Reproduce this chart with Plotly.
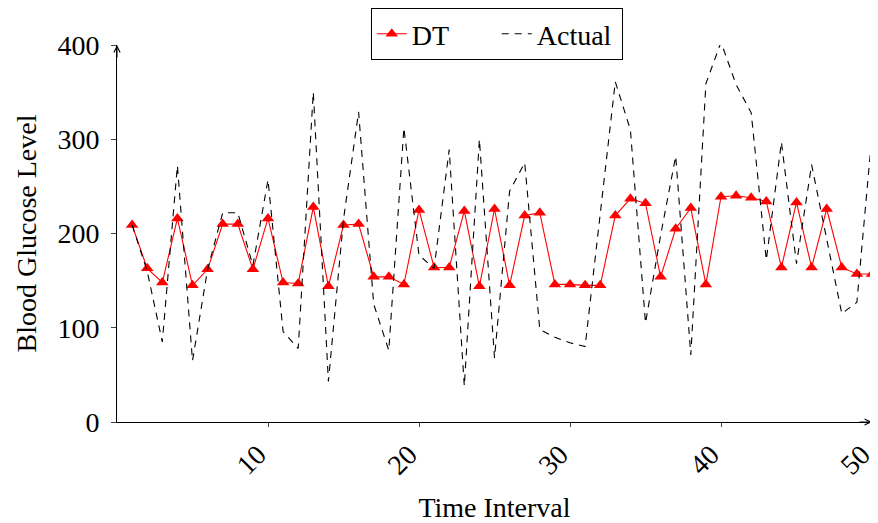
import plotly.graph_objects as go

time_interval = list(range(1, 51))

dt_values = [209, 163, 148, 216, 145, 162, 210, 210, 162, 216,
             148, 147, 228, 144, 209, 210, 154, 154, 146, 225,
             164, 164, 224, 144, 226, 145, 219, 222, 146, 146,
             145, 145, 219, 237, 232, 154, 205, 227, 146, 239,
             240, 238, 234, 164, 233, 164, 226, 164, 157, 157]

actual_values = [209, 160, 85, 272, 65, 162, 222, 222, 166, 257,
                 96, 78, 350, 43, 215, 329, 125, 76, 312, 177,
                 163, 289, 38, 300, 68, 245, 275, 98, 90, 84,
                 80, 220, 361, 310, 105, 198, 282, 71, 359, 403,
                 358, 328, 172, 297, 168, 273, 195, 115, 127, 305]

x_ticks = [10, 20, 30, 40, 50]
y_ticks = [0, 100, 200, 300, 400]

FONT = "Liberation Serif"

fig = go.Figure()
fig.add_trace(go.Scatter(
    x=time_interval, y=dt_values, name="DT", mode="lines+markers",
    line=dict(color="red", width=1.1),
    marker=dict(symbol="triangle-up", size=11, color="red"),
))
fig.add_trace(go.Scatter(
    x=time_interval, y=actual_values, name="Actual", mode="lines",
    line=dict(color="black", width=1.1, dash="7px,6px"),
))

# The page body adds an 8px offset, so the figure is sized 8px smaller.
fig.update_layout(
    width=870, height=515,
    margin=dict(l=109, r=6, t=37, b=101, autoexpand=False),
    paper_bgcolor="white", plot_bgcolor="white",
    font=dict(family=FONT, size=28, color="black"),
    showlegend=True,
    legend=dict(
        orientation="h", x=0.503, xanchor="center", y=1.098, yanchor="top",
        bordercolor="black", borderwidth=1, bgcolor="white",
        font=dict(family=FONT, size=28), entrywidth=80,
    ),
    xaxis=dict(
        range=[0, 50], tickvals=x_ticks, ticktext=[str(v) for v in x_ticks],
        tickangle=-45, showgrid=False, zeroline=False,
        showline=True, linecolor="black", linewidth=1,
        ticks="outside", ticklen=4, tickcolor="#444",
        ticklabeloverflow="allow", ticklabelshift=-10,
        automargin=False,
        title=dict(text="Time Interval", standoff=18, font=dict(size=28)),
    ),
    yaxis=dict(
        range=[0, 400], tickvals=y_ticks, showgrid=False, zeroline=False,
        showline=True, linecolor="black", linewidth=1,
        ticks="outside", ticklen=5, tickcolor="#444", ticklabelstandoff=6,
        automargin=False,
        title=dict(text="Blood Glucose Level", standoff=12, font=dict(size=28)),
    ),
)

# axis arrows
fig.add_annotation(x=0, y=400, xref="x", yref="y", ax=0, ay=14, text="",
                   showarrow=True, arrowhead=5, arrowsize=1.2, arrowwidth=1, arrowcolor="black")
fig.add_annotation(x=50, y=0, xref="x", yref="y", ax=-14, ay=0, text="",
                   showarrow=True, arrowhead=5, arrowsize=1.2, arrowwidth=1, arrowcolor="black")

fig.write_html("out.html")
